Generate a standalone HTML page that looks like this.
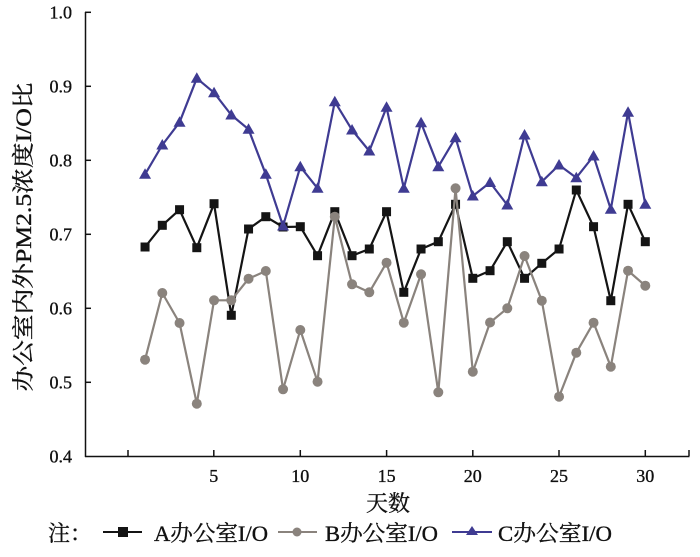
<!DOCTYPE html>
<html>
<head>
<meta charset="utf-8">
<style>
  html,body{margin:0;padding:0;background:#fff;}
  svg{display:block;}
  text{font-family:"Liberation Serif","Noto Serif CJK SC",serif;fill:#111;stroke:#111;stroke-width:0.35;}
</style>
</head>
<body>
<svg width="700" height="557" viewBox="0 0 700 557" xmlns="http://www.w3.org/2000/svg">
  <defs>
    <marker id="mSq" markerWidth="10" markerHeight="10" refX="5" refY="5" markerUnits="userSpaceOnUse" overflow="visible">
      <rect x="0.5" y="0.5" width="9" height="9" fill="#141414"/>
    </marker>
    <marker id="mCi" markerWidth="12" markerHeight="12" refX="6" refY="6" markerUnits="userSpaceOnUse" overflow="visible">
      <circle cx="6" cy="6" r="5" fill="#8a837d"/>
    </marker>
    <marker id="mTr" markerWidth="14" markerHeight="14" refX="7" refY="7" markerUnits="userSpaceOnUse" overflow="visible">
      <path d="M7,1 L13,11.5 L1,11.5 Z" fill="#3f3b92"/>
    </marker>
  </defs>

  <!-- axes -->
  <g stroke="#111" stroke-width="1.5" fill="none">
    <line x1="85.5" y1="12" x2="85.5" y2="457"/>
    <line x1="85" y1="456.5" x2="689.5" y2="456.5"/>
    <line x1="85" y1="12.3" x2="91" y2="12.3"/>
    <line x1="85" y1="86.3" x2="91" y2="86.3"/>
    <line x1="85" y1="160.3" x2="91" y2="160.3"/>
    <line x1="85" y1="234.3" x2="91" y2="234.3"/>
    <line x1="85" y1="308.3" x2="91" y2="308.3"/>
    <line x1="85" y1="382.3" x2="91" y2="382.3"/>
    <line x1="128" y1="456" x2="128" y2="450"/>
    <line x1="213.8" y1="456" x2="213.8" y2="450"/>
    <line x1="300.3" y1="456" x2="300.3" y2="450"/>
    <line x1="386.6" y1="456" x2="386.6" y2="450"/>
    <line x1="472.8" y1="456" x2="472.8" y2="450"/>
    <line x1="559" y1="456" x2="559" y2="450"/>
    <line x1="645.3" y1="456" x2="645.3" y2="450"/>
    <line x1="689" y1="456" x2="689" y2="450"/>
  </g>

  <!-- y tick labels -->
  <g font-size="18" text-anchor="end">
    <text x="72" y="18.6">1.0</text>
    <text x="72" y="92.6">0.9</text>
    <text x="72" y="166.6">0.8</text>
    <text x="72" y="240.6">0.7</text>
    <text x="72" y="314.6">0.6</text>
    <text x="72" y="388.6">0.5</text>
    <text x="72" y="462.6">0.4</text>
  </g>

  <!-- x tick labels -->
  <g font-size="18" text-anchor="middle">
    <text x="213.8" y="482">5</text>
    <text x="300.3" y="482">10</text>
    <text x="386.6" y="482">15</text>
    <text x="472.8" y="482">20</text>
    <text x="559" y="482">25</text>
    <text x="645.3" y="482">30</text>
  </g>

  <!-- axis titles -->
  <text x="388" y="511" font-size="22" text-anchor="middle">天数</text>
  <text x="31" y="237" font-size="22" text-anchor="middle" transform="rotate(-90 31 237)" textLength="309" lengthAdjust="spacingAndGlyphs">办公室内外PM2.5浓度I/O比</text>

  <!-- Series A -->
  <polyline fill="none" stroke="#141414" stroke-width="2.2" stroke-linejoin="round"
    marker-start="url(#mSq)" marker-mid="url(#mSq)" marker-end="url(#mSq)"
    points="145.05,247 162.3,225.3 179.55,209.7 196.8,247.7 214.05,203.7 231.3,315.3 248.55,229 265.8,216.7 283.05,227 300.3,226.7 317.55,255.7 334.8,211.7 352.05,255.7 369.3,249 386.55,211.7 403.8,292.3 421.05,249 438.3,241.7 455.55,204.3 472.8,278.3 490.05,270.7 507.3,241.7 524.55,278.3 541.8,263.3 559.05,249 576.3,190 593.55,226.7 610.8,300.7 628.05,204.3 645.3,241.7"/>

  <!-- Series B -->
  <polyline fill="none" stroke="#8a837d" stroke-width="2.2" stroke-linejoin="round"
    marker-start="url(#mCi)" marker-mid="url(#mCi)" marker-end="url(#mCi)"
    points="145.05,359.7 162.3,293 179.55,323 196.8,403.7 214.05,300.3 231.3,300.3 248.55,278.7 265.8,271 283.05,389.3 300.3,330 317.55,381.7 334.8,216.7 352.05,284.3 369.3,292.3 386.55,262.7 403.8,322.7 421.05,274.3 438.3,392.3 455.55,188.3 472.8,371.7 490.05,322.5 507.3,308.3 524.55,256 541.8,300.7 559.05,396.7 576.3,352.7 593.55,322.7 610.8,366.7 628.05,270.7 645.3,285.7"/>

  <!-- Series C -->
  <polyline fill="none" stroke="#3f3b92" stroke-width="2.2" stroke-linejoin="round"
    marker-start="url(#mTr)" marker-mid="url(#mTr)" marker-end="url(#mTr)"
    points="145.05,174.3 162.3,145 179.55,122.3 196.8,78.3 214.05,92.7 231.3,115 248.55,129.3 265.8,174.3 283.05,226 300.3,166.7 317.55,188.3 334.8,101.7 352.05,130 369.3,151 386.55,107.3 403.8,188.3 421.05,122.7 438.3,166.7 455.55,137.7 472.8,196 490.05,182.5 507.3,205 524.55,135 541.8,181.7 559.05,165 576.3,177.7 593.55,156 610.8,209.3 628.05,112.3 645.3,204.3"/>

  <!-- Legend -->
  <text x="48" y="541" font-size="22">注：</text>
  <line x1="103" y1="532" x2="142" y2="532" stroke="#141414" stroke-width="2"/>
  <rect x="118" y="527" width="10" height="10" fill="#141414"/>
  <text x="154" y="541" font-size="22" textLength="114" lengthAdjust="spacingAndGlyphs">A办公室I/O</text>

  <line x1="278" y1="532" x2="317" y2="532" stroke="#8a837d" stroke-width="2"/>
  <circle cx="297" cy="532" r="4.5" fill="#8a837d"/>
  <text x="325" y="541" font-size="22" textLength="113" lengthAdjust="spacingAndGlyphs">B办公室I/O</text>

  <line x1="452" y1="532" x2="492" y2="532" stroke="#3f3b92" stroke-width="2"/>
  <path d="M472,526 L478,535 L466,535 Z" fill="#3f3b92"/>
  <text x="498" y="541" font-size="22" textLength="114" lengthAdjust="spacingAndGlyphs">C办公室I/O</text>
</svg>
</body>
</html>
